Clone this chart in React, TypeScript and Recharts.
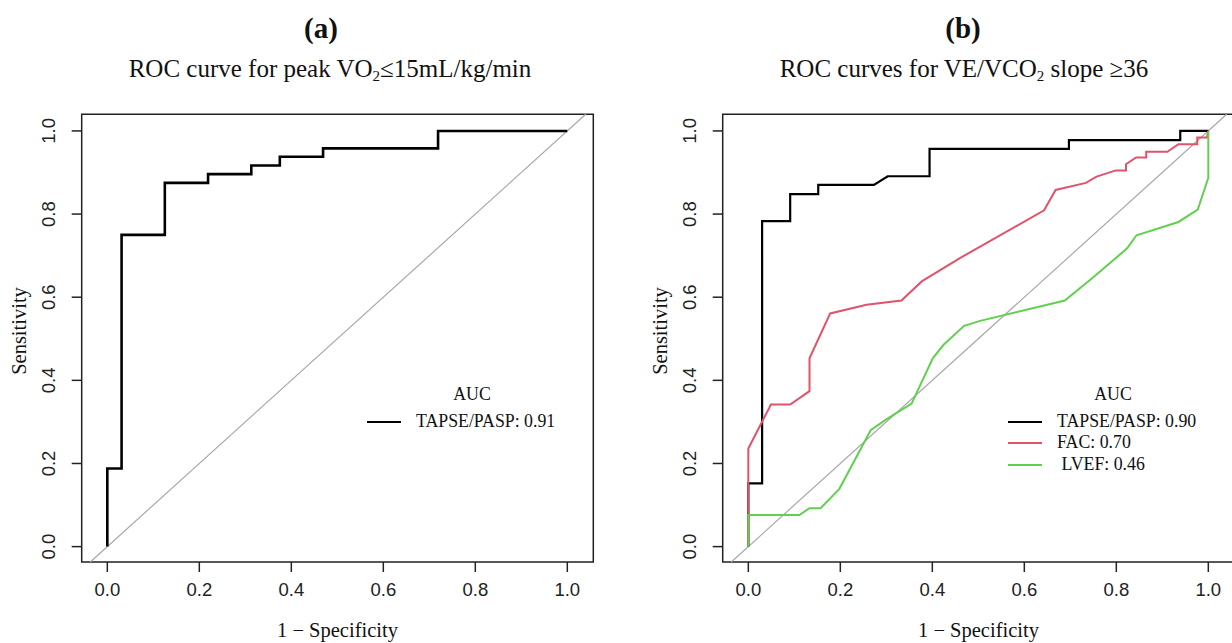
import React from "react";
import { LineChart, Line, XAxis, YAxis, ReferenceLine, ReferenceArea } from "recharts";

// ---- Panel (a): peak VO2 <= 15 mL/kg/min ----
const aTapseFpr = [0, 0, 0.031, 0.031, 0.125, 0.125, 0.219, 0.219, 0.313, 0.313, 0.375, 0.375, 0.469, 0.469, 0.719, 0.719, 1.0];
const aTapseTpr = [0, 0.188, 0.188, 0.75, 0.75, 0.875, 0.875, 0.896, 0.896, 0.917, 0.917, 0.938, 0.938, 0.958, 0.958, 1.0, 1.0];

// ---- Panel (b): VE/VCO2 slope >= 36 ----
const bTapseFpr = [0, 0, 0.03, 0.03, 0.091, 0.091, 0.152, 0.152, 0.273, 0.303, 0.394, 0.394, 0.697, 0.697, 0.939, 0.939, 1.0];
const bTapseTpr = [0, 0.152, 0.152, 0.783, 0.783, 0.848, 0.848, 0.87, 0.87, 0.891, 0.891, 0.957, 0.957, 0.978, 0.978, 1.0, 1.0];

const bFacFpr = [0, 0, 0.046, 0.049, 0.091, 0.133, 0.133, 0.178, 0.257, 0.333, 0.377, 0.46, 0.643, 0.668, 0.734, 0.757, 0.799, 0.821, 0.821, 0.843, 0.865, 0.865, 0.911, 0.935, 0.976, 0.976, 0.997, 1.0];
const bFacTpr = [0, 0.236, 0.335, 0.342, 0.342, 0.374, 0.453, 0.561, 0.582, 0.592, 0.638, 0.694, 0.809, 0.858, 0.875, 0.89, 0.905, 0.905, 0.92, 0.936, 0.936, 0.95, 0.95, 0.968, 0.968, 0.984, 0.984, 1.0];

const bLvefFpr = [0, 0, 0.111, 0.133, 0.157, 0.198, 0.266, 0.3, 0.355, 0.401, 0.424, 0.469, 0.504, 0.688, 0.75, 0.823, 0.844, 0.935, 0.977, 1.0, 1.0];
const bLvefTpr = [0, 0.076, 0.076, 0.0925, 0.0925, 0.139, 0.28, 0.306, 0.344, 0.453, 0.485, 0.531, 0.543, 0.592, 0.648, 0.717, 0.749, 0.781, 0.811, 0.887, 1.0];

const axisTicks = [0, 0.2, 0.4, 0.6, 0.8, 1.0];
const aucA = ["TAPSE/PASP: 0.91"];
const aucB = ["TAPSE/PASP: 0.90", "FAC: 0.70", " LVEF: 0.46"];

const zip = (xs: number[], ys: number[]) => xs.map((x, i) => ({ x, y: ys[i] }));

const X_DOMAIN: [number, number] = [-0.0557, 1.0565];
const Y_DOMAIN: [number, number] = [-0.037, 1.04];

const SERIF = "'Liberation Serif', 'Times New Roman', serif";
const SANS = "'Liberation Sans', Arial, Helvetica, sans-serif";

const XTick = (props: any) => {
  const { x, y, payload } = props;
  return (
    <text x={x} y={y + 17} textAnchor="middle" dominantBaseline="central" fontFamily={SANS} fontSize={18.5} fill="#222">
      {Number(payload.value).toFixed(1)}
    </text>
  );
};

const YTick = (props: any) => {
  const { x, y, payload } = props;
  const cx = x - 23.4;
  return (
    <text x={cx} y={y} transform={`rotate(-90, ${cx}, ${y})`} textAnchor="middle" dominantBaseline="central" fontFamily={SANS} fontSize={18.5} fill="#222">
      {Number(payload.value).toFixed(1)}
    </text>
  );
};

type Series = { data: { x: number; y: number }[]; color: string; width: number; name: string };

const RocPanel = ({ series }: { series: Series[] }) => (
  <LineChart width={616} height={643} margin={{ top: 114.3, right: 22.7, bottom: 21, left: 21.7 }}>
    <XAxis
      type="number"
      dataKey="x"
      domain={X_DOMAIN}
      allowDataOverflow
      ticks={axisTicks}
      height={60}
      axisLine={false}
      tickSize={10}
      tickMargin={0}
      tickLine={{ stroke: "#222", strokeWidth: 1.5 }}
      tick={<XTick />}
    />
    <YAxis
      type="number"
      dataKey="y"
      domain={Y_DOMAIN}
      allowDataOverflow
      ticks={axisTicks}
      width={60}
      axisLine={false}
      tickSize={10}
      tickMargin={0}
      tickLine={{ stroke: "#222", strokeWidth: 1.5 }}
      tick={<YTick />}
    />
    <ReferenceArea x1={X_DOMAIN[0]} x2={X_DOMAIN[1]} y1={Y_DOMAIN[0]} y2={Y_DOMAIN[1]} fill="none" fillOpacity={0} stroke="#222" strokeWidth={1.5} ifOverflow="visible" />
    <ReferenceLine
      segment={[{ x: -0.037, y: -0.037 }, { x: 1.04, y: 1.04 }]}
      stroke="#a8a8a8"
      strokeWidth={1.2}
      ifOverflow="visible"
    />
    {series.map((s) => (
      <Line
        key={s.name}
        data={s.data}
        dataKey="y"
        type="linear"
        stroke={s.color}
        strokeWidth={s.width}
        dot={false}
        activeDot={false}
        isAnimationActive={false}
      />
    ))}
  </LineChart>
);

const Txt = ({ x, y, size, children, rotate = 0, bold = false, anchor = "middle", family = SERIF }: any) => (
  <div
    style={{
      position: "absolute",
      left: x,
      top: y,
      transform: `translate(${anchor === "middle" ? "-50%" : "0"}, -50%) rotate(${rotate}deg)`,
      fontFamily: family,
      fontSize: size,
      fontWeight: bold ? "bold" : "normal",
      whiteSpace: "pre",
      lineHeight: 1,
      color: "#111",
    }}
  >
    {children}
  </div>
);

const LegendBlock = ({ x, titleX, items }: { x: number; titleX: number; items: { label: string; color: string }[] }) => (
  <>
    <Txt x={titleX} y={395} size={17.8}>AUC</Txt>
    {items.map((it, i) => (
      <React.Fragment key={it.label}>
        <div style={{ position: "absolute", left: x, top: 421.7 + i * 21.6 - 1, width: 34, height: 2, background: it.color }} />
        <Txt x={x + 49} y={421.7 + i * 21.6} size={17.8} anchor="start">{it.label}</Txt>
      </React.Fragment>
    ))}
  </>
);

export default function App() {
  const seriesA: Series[] = [{ data: zip(aTapseFpr, aTapseTpr), color: "#000000", width: 2.6, name: "TAPSE/PASP" }];
  const seriesB: Series[] = [
    { data: zip(bTapseFpr, bTapseTpr), color: "#000000", width: 2.2, name: "TAPSE/PASP" },
    { data: zip(bFacFpr, bFacTpr), color: "#DF536B", width: 2, name: "FAC" },
    { data: zip(bLvefFpr, bLvefTpr), color: "#61D04F", width: 2, name: "LVEF" },
  ];
  return (
    <div style={{ position: "absolute", left: 0, top: 0, width: 1232, height: 643, overflow: "hidden", background: "#fff" }}>
      <div style={{ position: "absolute", left: 0, top: 0 }}>
        <RocPanel series={seriesA} />
      </div>
      <div style={{ position: "absolute", left: 641, top: 0 }}>
        <RocPanel series={seriesB} />
      </div>

      <Txt x={321} y={28} size={29} bold>(a)</Txt>
      <Txt x={330} y={70} size={25}>
        ROC curve for peak VO<sub style={{ fontSize: "0.6em", verticalAlign: "-0.25em" }}>2</sub>≤15mL/kg/min
      </Txt>
      <Txt x={963} y={28} size={29} bold>(b)</Txt>
      <Txt x={964} y={70} size={25}>
        ROC curves for VE/VCO<sub style={{ fontSize: "0.6em", verticalAlign: "-0.25em" }}>2</sub> slope ≥36
      </Txt>

      <Txt x={337.5} y={630} size={20.5}>1 − Specificity</Txt>
      <Txt x={978.5} y={630} size={20.5}>1 − Specificity</Txt>
      <Txt x={19} y={331} size={20.5} rotate={-90}>Sensitivity</Txt>
      <Txt x={660} y={331} size={20.5} rotate={-90}>Sensitivity</Txt>

      <LegendBlock x={367} titleX={472} items={aucA.map((l) => ({ label: l, color: "#000000" }))} />
      <LegendBlock
        x={1008}
        titleX={1113}
        items={aucB.map((l, i) => ({ label: l, color: ["#000000", "#DF536B", "#61D04F"][i] }))}
      />
    </div>
  );
}
